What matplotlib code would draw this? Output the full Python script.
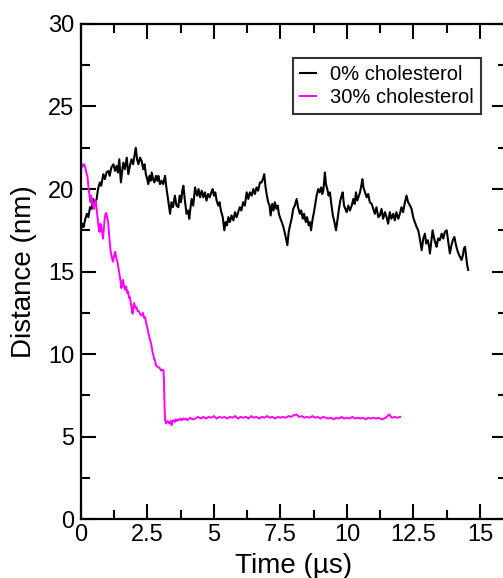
#!/usr/bin/env python
import numpy as np
import matplotlib
matplotlib.use('Agg')
import matplotlib.pyplot as plt
from matplotlib.ticker import MultipleLocator, FuncFormatter

# 0% cholesterol trace (time in us, distance in nm)
t_chol0 = [0.00, 0.05, 0.10, 0.15, 0.22, 0.28, 0.34, 0.40, 0.46, 0.52, 0.59, 0.64,
           0.71, 0.76, 0.84, 0.90, 0.96, 1.03, 1.08, 1.14, 1.22, 1.28, 1.34, 1.39,
           1.44, 1.50, 1.55, 1.59, 1.65, 1.72, 1.78, 1.84, 1.90, 1.96, 2.02, 2.06,
           2.11, 2.16, 2.22, 2.28, 2.34, 2.39, 2.44, 2.49, 2.53, 2.58, 2.62, 2.66,
           2.71, 2.76, 2.82, 2.87, 2.91, 2.97, 3.03, 3.09, 3.16, 3.21, 3.28, 3.35,
           3.40, 3.46, 3.53, 3.59, 3.66, 3.71, 3.76, 3.81, 3.85, 3.90, 3.97, 4.03,
           4.07, 4.12, 4.16, 4.22, 4.29, 4.33, 4.37, 4.42, 4.48, 4.54, 4.60, 4.66,
           4.72, 4.78, 4.84, 4.90, 4.95, 5.00, 5.05, 5.10, 5.16, 5.21, 5.26, 5.33,
           5.39, 5.44, 5.49, 5.54, 5.60, 5.66, 5.73, 5.79, 5.85, 5.91, 5.97, 6.03,
           6.10, 6.16, 6.23, 6.29, 6.35, 6.42, 6.48, 6.54, 6.60, 6.66, 6.73, 6.79,
           6.84, 6.89, 6.94, 6.99, 7.04, 7.09, 7.13, 7.19, 7.24, 7.29, 7.35, 7.40,
           7.44, 7.50, 7.55, 7.61, 7.67, 7.72, 7.76, 7.81, 7.86, 7.92, 7.98, 8.04,
           8.11, 8.16, 8.23, 8.28, 8.34, 8.39, 8.45, 8.50, 8.56, 8.61, 8.65, 8.71,
           8.76, 8.80, 8.86, 8.92, 8.97, 9.03, 9.07, 9.11, 9.14, 9.17, 9.21, 9.26,
           9.31, 9.36, 9.42, 9.47, 9.53, 9.59, 9.65, 9.70, 9.75, 9.80, 9.84, 9.89,
           9.94, 9.99, 10.05, 10.11, 10.18, 10.24, 10.29, 10.34, 10.39, 10.43, 10.49, 10.54,
           10.58, 10.62, 10.68, 10.74, 10.80, 10.86, 10.93, 10.99, 11.05, 11.11, 11.18, 11.24,
           11.30, 11.36, 11.43, 11.49, 11.55, 11.61, 11.67, 11.74, 11.80, 11.86, 11.93, 11.99,
           12.05, 12.11, 12.18, 12.24, 12.30, 12.37, 12.43, 12.49, 12.55, 12.62, 12.68, 12.74,
           12.81, 12.87, 12.93, 12.98, 13.04, 13.09, 13.12, 13.17, 13.22, 13.28, 13.33, 13.37,
           13.43, 13.49, 13.56, 13.62, 13.68, 13.75, 13.80, 13.87, 13.93, 13.98, 14.04, 14.10,
           14.15, 14.19, 14.25, 14.31, 14.36, 14.40, 14.44, 14.49, 14.52, 14.56]
d_chol0 = [17.5, 17.9, 17.7, 18.1, 18.5, 18.3, 18.9, 18.8, 19.4, 19.1, 19.4, 20.0,
           20.4, 20.2, 20.9, 20.6, 21.0, 21.1, 20.8, 21.3, 21.5, 21.1, 21.4, 21.0,
           21.8, 20.4, 21.1, 21.6, 21.2, 21.9, 20.9, 21.4, 21.8, 21.5, 22.1, 22.5,
           21.8, 21.5, 21.9, 21.7, 21.2, 21.5, 20.9, 20.6, 20.3, 20.8, 20.5, 21.0,
           20.6, 20.4, 20.8, 20.5, 20.8, 20.3, 20.5, 20.3, 20.8, 20.1, 19.3, 18.5,
           19.2, 18.9, 19.6, 19.0, 18.9, 19.6, 19.2, 19.9, 20.2, 19.4, 18.5, 18.7,
           18.2, 18.9, 19.4, 19.0, 20.1, 19.8, 19.6, 20.0, 19.5, 19.9, 19.5, 19.8,
           19.3, 19.7, 19.5, 19.8, 20.0, 19.6, 19.8, 19.3, 19.0, 19.2, 18.7, 18.3,
           17.5, 18.0, 17.8, 18.3, 18.0, 18.4, 18.1, 18.6, 18.3, 18.6, 18.9, 18.7,
           19.2, 19.0, 19.8, 19.4, 19.8, 19.6, 20.0, 19.7, 20.1, 19.9, 20.4, 20.4,
           20.6, 20.9, 20.1, 19.6, 19.2, 19.0, 18.4, 19.1, 18.7, 19.2, 18.8, 19.0,
           18.5, 18.2, 18.0, 17.7, 17.3, 16.9, 16.6, 17.4, 17.8, 18.2, 18.8, 19.0,
           19.4, 18.9, 18.5, 18.7, 18.2, 18.5, 18.0, 18.3, 17.8, 18.0, 17.5, 18.2,
           18.6, 19.0, 19.6, 20.0, 19.8, 20.1, 19.7, 19.9, 20.4, 21.0, 20.3, 20.0,
           19.6, 19.8, 19.0, 18.4, 18.0, 17.5, 18.2, 18.8, 19.3, 19.6, 19.8, 19.0,
           18.8, 18.6, 19.0, 18.7, 19.0, 19.4, 19.1, 19.8, 19.3, 19.5, 19.8, 20.2,
           20.6, 20.1, 19.8, 19.5, 19.7, 19.2, 19.1, 18.8, 18.5, 18.9, 18.3, 18.4,
           18.8, 18.2, 18.6, 18.3, 17.9, 18.6, 18.2, 18.5, 18.1, 18.6, 18.2, 18.5,
           18.9, 18.6, 19.2, 19.6, 19.2, 19.0, 18.8, 18.3, 18.0, 17.7, 17.5, 17.0,
           16.3, 17.0, 17.3, 16.7, 16.9, 16.5, 16.1, 16.8, 17.5, 17.0, 16.7, 16.5,
           17.0, 16.9, 17.3, 17.0, 17.4, 17.5, 16.9, 16.1, 16.6, 16.9, 17.1, 16.6,
           16.3, 16.1, 15.9, 15.7, 16.0, 16.4, 16.5, 15.8, 15.4, 15.1]

# 30% cholesterol trace
t_chol30 = [0.02, 0.05, 0.08, 0.12, 0.16, 0.20, 0.24, 0.27, 0.29, 0.32, 0.36, 0.38,
            0.41, 0.45, 0.49, 0.52, 0.56, 0.60, 0.64, 0.67, 0.70, 0.73, 0.76, 0.80,
            0.83, 0.86, 0.89, 0.92, 0.95, 0.98, 1.02, 1.05, 1.08, 1.11, 1.14, 1.17,
            1.20, 1.25, 1.29, 1.33, 1.37, 1.41, 1.45, 1.49, 1.52, 1.55, 1.58, 1.62,
            1.65, 1.70, 1.74, 1.77, 1.81, 1.84, 1.88, 1.91, 1.94, 1.97, 2.00, 2.04,
            2.09, 2.13, 2.18, 2.23, 2.28, 2.33, 2.37, 2.41, 2.45, 2.49, 2.53, 2.57,
            2.61, 2.66, 2.69, 2.72, 2.75, 2.78, 2.82, 2.87, 2.92, 2.97, 3.01, 3.05,
            3.10, 3.12, 3.14, 3.16, 3.20, 3.24, 3.28, 3.33, 3.37, 3.41, 3.44, 3.47,
            3.52, 3.56, 3.60, 3.65, 3.70, 3.75, 3.80, 3.85, 3.90, 3.95, 4.00, 4.10,
            4.20, 4.30, 4.40, 4.50, 4.60, 4.70, 4.80, 4.90, 5.00, 5.10, 5.20, 5.30,
            5.40, 5.50, 5.60, 5.70, 5.80, 5.90, 6.00, 6.10, 6.20, 6.30, 6.40, 6.50,
            6.60, 6.70, 6.80, 6.90, 7.00, 7.10, 7.20, 7.30, 7.40, 7.50, 7.60, 7.70,
            7.80, 7.90, 8.00, 8.10, 8.20, 8.30, 8.40, 8.50, 8.60, 8.70, 8.80, 8.90,
            9.00, 9.10, 9.20, 9.30, 9.40, 9.50, 9.60, 9.70, 9.80, 9.90, 10.00, 10.10,
            10.20, 10.30, 10.40, 10.50, 10.60, 10.70, 10.80, 10.90, 11.00, 11.10, 11.20, 11.30,
            11.40, 11.50, 11.55, 11.60, 11.65, 11.70, 11.80, 11.90, 12.00]
d_chol30 = [21.3, 21.5, 21.4, 21.5, 21.3, 21.0, 20.8, 20.3, 20.0, 19.6, 19.2, 19.6,
            19.4, 19.0, 18.8, 19.2, 19.3, 18.6, 18.0, 17.6, 17.4, 17.9, 17.8, 17.3,
            17.0, 17.6, 18.2, 18.5, 18.55, 18.3, 18.0, 17.4, 16.8, 16.3, 16.0, 15.8,
            15.6, 16.0, 16.2, 15.8, 15.6, 15.2, 14.8, 14.4, 14.0, 14.3, 14.5, 14.1,
            13.9, 14.1, 13.7, 13.8, 13.4, 13.45, 13.0, 12.7, 12.45, 12.9, 13.1, 12.8,
            12.85, 12.6, 12.6, 12.4, 12.35, 12.5, 12.2, 12.25, 11.9, 11.65, 11.3, 11.05,
            10.8, 10.45, 10.1, 9.95, 9.7, 9.65, 9.3, 9.25, 9.2, 9.15, 9.0, 9.05,
            9.05, 8.4, 7.0, 6.0, 5.8, 5.95, 5.9, 5.8, 5.95, 5.7, 5.95, 6.0,
            5.9, 6.05, 5.95, 6.05, 6.0, 6.1, 6.0, 6.1, 6.05, 6.1, 6.0, 6.15,
            6.05, 6.1, 6.2, 6.1, 6.2, 6.1, 6.2, 6.15, 6.25, 6.1, 6.2, 6.15,
            6.2, 6.1, 6.2, 6.15, 6.25, 6.1, 6.2, 6.15, 6.2, 6.1, 6.25, 6.15,
            6.2, 6.1, 6.2, 6.15, 6.25, 6.15, 6.2, 6.1, 6.2, 6.15, 6.2, 6.15,
            6.25, 6.2, 6.3, 6.35, 6.2, 6.25, 6.15, 6.2, 6.15, 6.25, 6.15, 6.2,
            6.1, 6.2, 6.15, 6.1, 6.15, 6.05, 6.15, 6.1, 6.2, 6.1, 6.15, 6.1,
            6.2, 6.1, 6.15, 6.1, 6.15, 6.05, 6.15, 6.1, 6.15, 6.1, 6.15, 6.05,
            6.1, 6.2, 6.3, 6.35, 6.2, 6.15, 6.2, 6.15, 6.2]

plt.rcParams['font.family'] = ['Liberation Sans', 'DejaVu Sans']

fig = plt.figure(figsize=(5.03, 5.78), dpi=100)
ax = fig.add_axes([0.161, 0.1016, 0.846, 0.857])

ax.plot(t_chol0, d_chol0, color='black', lw=1.5, label='0% cholesterol')
ax.plot(t_chol30, d_chol30, color='#ff00ff', lw=1.4, label='30% cholesterol')

ax.set_xlim(0, 16)
ax.set_ylim(0, 30)
ax.xaxis.set_major_locator(MultipleLocator(2.5))
ax.xaxis.set_minor_locator(MultipleLocator(1.25))
ax.yaxis.set_major_locator(MultipleLocator(5))
ax.yaxis.set_minor_locator(MultipleLocator(2.5))
ax.xaxis.set_major_formatter(FuncFormatter(lambda v, p: '%g' % v))

ax.tick_params(which='both', direction='in', top=True, right=True, width=1.5, labelsize=17)
ax.tick_params(which='major', length=11)
ax.tick_params(which='minor', length=6.5)
ax.tick_params(axis='y', pad=5)
for s in ax.spines.values():
    s.set_linewidth(1.6)

ax.set_xlabel('Time (\u00b5s)', fontsize=20, labelpad=5)
ax.set_ylabel('Distance (nm)', fontsize=20, labelpad=8)

leg = ax.legend(loc='upper left', bbox_to_anchor=(0.498, 0.931), borderaxespad=0,
                fontsize=14.5, frameon=True, fancybox=False, handlelength=0.8,
                handletextpad=0.7, borderpad=0.35, labelspacing=0.2)
leg.get_frame().set_edgecolor('black')
leg.get_frame().set_linewidth(1.5)

fig.savefig('out.png', dpi=100)
